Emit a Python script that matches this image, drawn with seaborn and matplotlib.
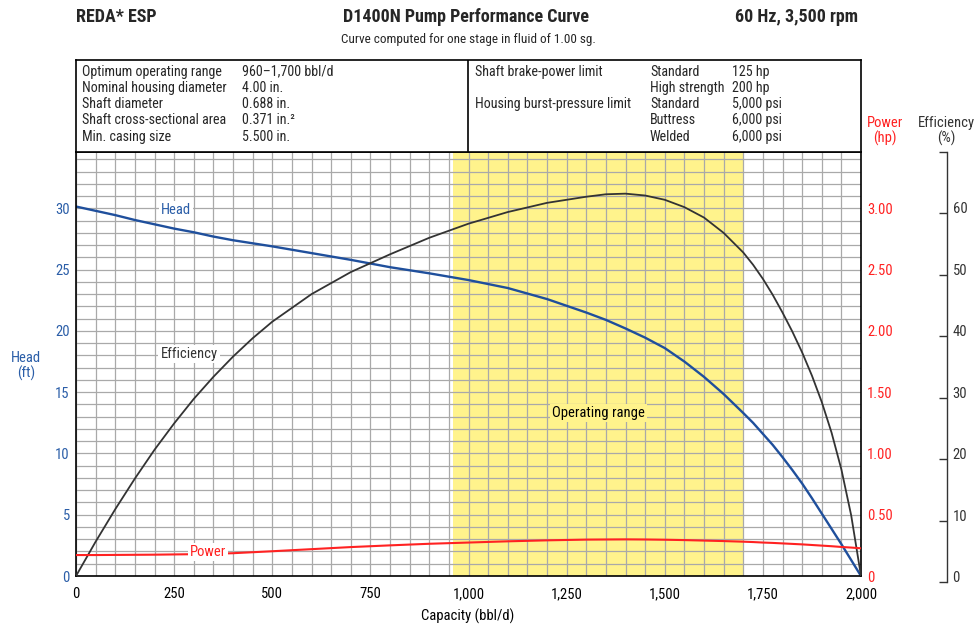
import numpy as np
import pandas as pd
import matplotlib
matplotlib.use("Agg")
import matplotlib.pyplot as plt
from matplotlib import font_manager as fm
import seaborn as sns

# Curve data
capacity = [0, 50, 100, 150, 200, 250, 300, 350, 400, 450, 500, 600, 700, 800, 900, 1000,
            1100, 1200, 1300, 1350, 1400, 1450, 1500, 1550, 1600, 1650, 1700, 1725, 1750,
            1775, 1800, 1825, 1850, 1875, 1900, 1925, 1950, 1975, 2000]
head = [30.15, 29.8, 29.45, 29.05, 28.7, 28.35, 28.05, 27.7, 27.4, 27.15, 26.9, 26.35, 25.8,
        25.2, 24.7, 24.15, 23.5, 22.6, 21.5, 20.9, 20.2, 19.45, 18.6, 17.5, 16.25, 14.85, 13.3,
        12.5, 11.6, 10.7, 9.7, 8.65, 7.55, 6.35, 5.1, 3.85, 2.6, 1.3, 0.0]
efficiency = [0.0, 5.6, 10.9, 15.9, 20.6, 24.9, 28.9, 32.5, 35.8, 38.8, 41.5, 46.0, 49.6,
              52.5, 55.2, 57.5, 59.4, 60.9, 61.9, 62.3, 62.4, 62.1, 61.4, 60.2, 58.5, 56.0,
              52.8, 50.8, 48.5, 45.9, 43.0, 39.9, 36.5, 32.7, 28.4, 23.4, 17.4, 9.9, 0.0]
power = [0.171, 0.171, 0.172, 0.173, 0.174, 0.176, 0.178, 0.181, 0.186, 0.194, 0.202, 0.219,
         0.236, 0.250, 0.263, 0.273, 0.283, 0.291, 0.297, 0.298, 0.299, 0.298, 0.296, 0.293,
         0.289, 0.285, 0.280, 0.277, 0.273, 0.270, 0.266, 0.262, 0.258, 0.253, 0.248, 0.243,
         0.237, 0.232, 0.226]

op_range = (960, 1700)

x_ticks = [0, 250, 500, 750, 1000, 1250, 1500, 1750, 2000]
x_tick_labels = ["0", "250", "500", "750", "1,000", "1,250", "1,500", "1,750", "2,000"]
head_ticks = [0, 5, 10, 15, 20, 25, 30]
power_ticks = [0, 0.5, 1.0, 1.5, 2.0, 2.5, 3.0]
power_tick_labels = ["0", "0.50", "1.00", "1.50", "2.00", "2.50", "3.00"]
eff_ticks = [0, 10, 20, 30, 40, 50, 60]

# Spec table text
left_names = ["Optimum operating range", "Nominal housing diameter", "Shaft diameter",
              "Shaft cross-sectional area", "Min. casing size"]
left_values = ["960\u20131,700 bbl/d", "4.00 in.", "0.688 in.", "0.371 in.\u00b2", "5.500 in."]
right_names = ["Shaft brake-power limit", "", "Housing burst-pressure limit", "", ""]
right_types = ["Standard", "High strength", "Standard", "Buttress", "Welded"]
right_values = ["125 hp", "200 hp", "5,000 psi", "6,000 psi", "6,000 psi"]

BLUE = "#1f4f9c"
BLUE_TXT = "#2b5ea8"
RED = "#ff2222"
DARK = "#333333"
YELLOW = "#fff38c"
GRID = "#a9a9a9"
HEAD_TOP = 34.6

sns.set_style("white")

# pick a condensed face if one is installed, else a narrower sans at smaller size
ttf = fm.fontManager.ttflist
names = {f.name for f in ttf}
fam, stretch, scale = "Liberation Sans", "normal", 0.86
for cand in ["Liberation Sans Narrow", "Roboto Condensed", "Open Sans Condensed"]:
    if cand in names:
        fam, scale = cand, 1.0
        break
else:
    if any(f.name == "DejaVu Sans" and f.stretch in ("condensed", "semi-condensed") for f in ttf):
        fam, stretch, scale = "DejaVu Sans", "condensed", 0.92
plt.rcParams['font.family'] = [fam, 'DejaVu Sans']
plt.rcParams['font.stretch'] = stretch
FS = 10.5 * scale
TFS = 10.1 * scale

df = pd.DataFrame({"capacity": capacity, "head": head,
                   "efficiency": efficiency, "power": power})

W, H = 974, 626
fig = plt.figure(figsize=(W / 100, H / 100), dpi=100)

# main plot area
ax = fig.add_axes([76 / W, 50 / H, 785 / W, 424 / H])
ax.axvspan(*op_range, color=YELLOW, lw=0, zorder=0.2)
sns.lineplot(data=df, x="capacity", y="head", ax=ax, color=BLUE, lw=1.7)

ax_eff = ax.twinx()
sns.lineplot(data=df, x="capacity", y="efficiency", ax=ax_eff, color=DARK, lw=1.3)
ax_eff.set_ylim(0, HEAD_TOP * 2)
ax_eff.set_yticks([])
ax_eff.set_ylabel("")

ax_pow = ax.twinx()
sns.lineplot(data=df, x="capacity", y="power", ax=ax_pow, color=RED, lw=1.5)
ax_pow.set_ylim(0, HEAD_TOP / 10)
ax_pow.set_yticks(power_ticks)
ax_pow.set_yticklabels(power_tick_labels)
ax_pow.set_ylabel("")
ax_pow.tick_params(axis="y", length=0, pad=4.5, labelcolor=RED, labelsize=FS)

for a in (ax_eff, ax_pow):
    for s in a.spines.values():
        s.set_visible(False)

ax.set_xlim(0, 2000)
ax.set_ylim(0, HEAD_TOP)
ax.set_xticks(x_ticks)
ax.set_xticklabels(x_tick_labels)
ax.set_xticks(np.arange(0, 2001, 50), minor=True)
ax.set_yticks(head_ticks)
ax.set_yticks(np.arange(0, 35, 1), minor=True)
ax.set_axisbelow(True)
ax.grid(which="both", color=GRID, lw=0.9)
ax.tick_params(which="both", length=0)
ax.tick_params(axis="y", labelcolor=BLUE_TXT, pad=4.5, labelsize=FS)
ax.tick_params(axis="x", labelcolor="black", pad=8, labelsize=FS)
ax.set_xlabel("")
ax.set_ylabel("")
for s in ax.spines.values():
    s.set_visible(True)
    s.set_color("black")
    s.set_linewidth(1.2)

# curve labels (drawn on top axes, placed in head/capacity coords)
lab = dict(transform=ax.transData, ha="center", va="center", fontsize=FS, zorder=10)
ax_pow.text(255, 29.9, "Head", color=BLUE_TXT,
            bbox=dict(fc="white", ec="none", pad=1.5), **lab)
ax_pow.text(288, 18.1, "Efficiency", color=DARK,
            bbox=dict(fc="white", ec="none", pad=1.5), **lab)
ax_pow.text(337, 1.95, "Power", color=RED,
            bbox=dict(fc="white", ec="none", pad=1.5), **lab)
ax_pow.text(1330, 13.3, "Operating range", color="black",
            bbox=dict(fc=YELLOW, ec="none", pad=1.5), **lab)

# efficiency scale on far right
ax_es = fig.add_axes([940 / W, 44 / H, 7 / W, 430 / H])
ax_es.set_ylim(0, 70)
ax_es.patch.set_visible(False)
for s in ("left", "top", "bottom"):
    ax_es.spines[s].set_visible(False)
ax_es.spines["right"].set_color(DARK)
ax_es.spines["right"].set_linewidth(1.0)
ax_es.set_xticks([])
ax_es.yaxis.tick_right()
ax_es.set_yticks(eff_ticks + [70])
ax_es.set_yticklabels([str(v) for v in eff_ticks] + [""])
ax_es.tick_params(axis="y", direction="in", length=6, width=1, colors=DARK, pad=4, labelsize=FS)
for lbl in ax_es.get_yticklabels():
    lbl.set_va("baseline")

# axis titles
fig.text(26 / W, 1 - 366 / H, "Head\n(ft)", color=BLUE_TXT, ha="center", va="center",
         fontsize=FS, linespacing=1.1)
fig.text(885 / W, 1 - 131 / H, "Power\n(hp)", color=RED, ha="center", va="center",
         fontsize=FS, linespacing=1.1)
fig.text(946 / W, 1 - 131 / H, "Efficiency\n(%)", color=DARK, ha="center", va="center",
         fontsize=FS, linespacing=1.1)
fig.text(468 / W, 1 - 616 / H, "Capacity (bbl/d)", color="black", ha="center", va="center",
         fontsize=FS)

# header
TS = 13 * scale
fig.text(76 / W, 1 - 17 / H, "REDA* ESP", fontsize=TS, fontweight="bold", ha="left", va="center")
fig.text(466 / W, 1 - 17 / H, "D1400N Pump Performance Curve", fontsize=TS, fontweight="bold",
         ha="center", va="center")
fig.text(858 / W, 1 - 17 / H, "60 Hz, 3,500 rpm", fontsize=TS, fontweight="bold",
         ha="right", va="center")
fig.text(468 / W, 1 - 39 / H, "Curve computed for one stage in fluid of 1.00 sg.",
         fontsize=9.5 * scale, ha="center", va="center")

# spec table above the plot
ax_tab = fig.add_axes([76 / W, (H - 152) / H, 785 / W, 92 / H])
ax_tab.set_xlim(0, 785)
ax_tab.set_ylim(92, 0)
ax_tab.set_xticks([])
ax_tab.set_yticks([])
for s in ax_tab.spines.values():
    s.set_visible(True)
    s.set_color("black")
    s.set_linewidth(1.2)
ax_tab.axvline(392, color="black", lw=1.2)
rows_y = [11.7, 27.9, 44.2, 60.4, 76.7]
for i, y in enumerate(rows_y):
    ax_tab.text(6, y, left_names[i], fontsize=TFS, va="center")
    ax_tab.text(166, y, left_values[i], fontsize=TFS, va="center")
    ax_tab.text(399, y, right_names[i], fontsize=TFS, va="center")
    ax_tab.text(574, y, right_types[i], fontsize=TFS, va="center")
    ax_tab.text(656, y, right_values[i], fontsize=TFS, va="center")

fig.savefig("out.png", dpi=100)
